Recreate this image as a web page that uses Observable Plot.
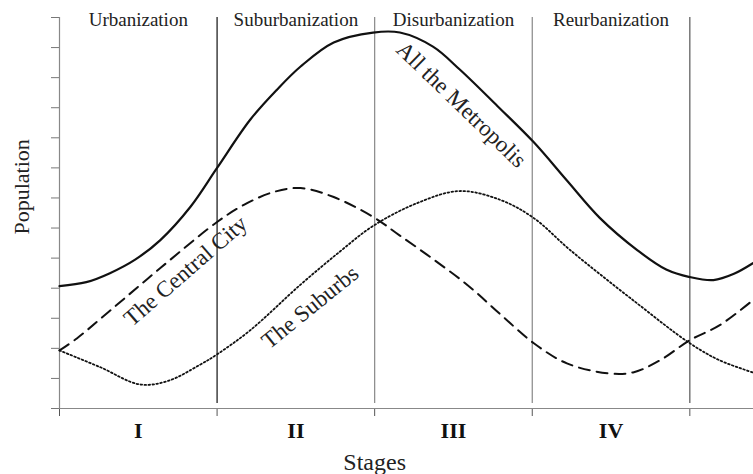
<!DOCTYPE html>
<html>
<head>
<meta charset="utf-8">
<script src="https://cdn.jsdelivr.net/npm/d3@7"></script>
<script src="https://cdn.jsdelivr.net/npm/@observablehq/plot@0.6"></script>
<style>
  html, body { margin: 0; padding: 0; background: #fff; }
  #chart svg { display: block; }
</style>
</head>
<body>
<div id="chart"></div>
<script>
// Stage boundaries and labels
const stageTicks = [0, 1, 2, 3, 4];
const stageDividers = [1, 2, 3, 4];
const stageCenters = [0.5, 1.5, 2.5, 3.5];
const stageNames = ["Urbanization", "Suburbanization", "Disurbanization", "Reurbanization"];
const stageNumerals = ["I", "II", "III", "IV"];
const populationTicks = [0, 1, 2, 3, 4, 5, 6, 7, 8, 9, 10, 11, 12, 13];

// All the Metropolis (solid)
const metroX = [0, 0.17, 0.32, 0.48, 0.64, 0.83, 1.0, 1.21, 1.38, 1.53, 1.74, 1.99, 2.16, 2.37, 2.54, 2.78, 3.01, 3.22, 3.43, 3.67, 3.85, 4.0, 4.15, 4.28, 4.4];
const metroY = [4.07, 4.2, 4.5, 4.95, 5.6, 6.7, 8.0, 9.6, 10.6, 11.37, 12.17, 12.5, 12.5, 12.03, 11.27, 10.05, 8.85, 7.58, 6.33, 5.25, 4.62, 4.37, 4.27, 4.48, 4.83];

// The Central City (dashed)
const cityX = [0, 0.11, 0.32, 0.64, 1.0, 1.17, 1.36, 1.53, 1.74, 1.99, 2.16, 2.37, 2.59, 2.8, 3.01, 3.22, 3.48, 3.64, 3.81, 4.0, 4.19, 4.4];
const cityY = [1.93, 2.33, 3.25, 4.67, 6.2, 6.77, 7.2, 7.33, 7.03, 6.37, 5.75, 4.97, 4.1, 3.12, 2.17, 1.5, 1.17, 1.2, 1.6, 2.27, 2.77, 3.6];

// The Suburbs (dotted)
const suburbX = [0, 0.26, 0.51, 0.69, 0.89, 1.0, 1.21, 1.53, 1.78, 1.99, 2.27, 2.54, 2.8, 3.01, 3.24, 3.64, 4.0, 4.19, 4.4];
const suburbY = [1.93, 1.37, 0.8, 0.92, 1.45, 1.8, 2.6, 4.12, 5.22, 6.07, 6.83, 7.23, 6.93, 6.33, 5.27, 3.6, 2.17, 1.6, 1.2];

// Curve labels
const curveLabels = ["The Central City", "The Suburbs", "All the Metropolis"];
const curveLabelX = [0.8, 1.59, 2.55];
const curveLabelY = [4.57, 3.37, 10.1];
const curveLabelAngle = [-41, -39, 44];

const toRows = (xs, ys) => xs.map((x, i) => ({x, y: ys[i]}));
const metro = toRows(metroX, metroY);
const city = toRows(cityX, cityY);
const suburbs = toRows(suburbX, suburbY);
const labels = curveLabels.map((t, i) => ({t, x: curveLabelX[i], y: curveLabelY[i], a: curveLabelAngle[i]}));
const stages = stageNames.map((name, i) => ({name, num: stageNumerals[i], x: stageCenters[i]}));
const dividers = stageDividers.map((x, i) => ({x, c: ["#111", "#888", "#888", "#555"][i]}));

const font = "Liberation Serif, Times New Roman, serif";

const chart = Plot.plot({
  width: 753,
  height: 474,
  marginLeft: 59,
  marginRight: 0,
  marginTop: 17,
  marginBottom: 66,
  style: {fontFamily: font, background: "#fff", color: "#111"},
  x: {domain: [0, 4.404], axis: null},
  y: {domain: [0, 13], axis: null},
  marks: [
    // bottom axis ticks
    Plot.axisX({ticks: stageTicks, tickSize: 8, tickFormat: () => "", label: null, stroke: "#555"}),
    // left axis ticks
    Plot.axisY({ticks: populationTicks, tickSize: 8, tickFormat: () => "", label: null, stroke: "#777"}),
    // axis lines
    Plot.ruleX([0], {y1: 0, y2: 13, stroke: "#888", strokeWidth: 1.2}),
    Plot.ruleY([0], {stroke: "#888", strokeWidth: 1.2}),
    // stage dividers
    Plot.ruleX(dividers, {x: "x", y1: 0, y2: 13, insetTop: -5, stroke: "c", strokeWidth: 1.2}),
    // curves
    Plot.line(metro, {x: "x", y: "y", curve: "catmull-rom", stroke: "#111", strokeWidth: 2.2}),
    Plot.line(city, {x: "x", y: "y", curve: "catmull-rom", stroke: "#111", strokeWidth: 2, strokeDasharray: "11,7"}),
    Plot.line(suburbs, {x: "x", y: "y", curve: "catmull-rom", stroke: "#111", strokeWidth: 1.8, strokeDasharray: "1.6,2.4"}),
    // curve labels
    Plot.text(labels, {x: "x", y: "y", text: "t", rotate: "a", fontSize: 23, fill: "#222", textAnchor: "middle", lineAnchor: "middle"}),
    // stage names (top)
    Plot.text(stages, {x: "x", text: "name", frameAnchor: "top", lineAnchor: "bottom", dy: 8, fontSize: 19, fill: "#222"}),
    // stage numerals (bottom)
    Plot.text(stages, {x: "x", text: "num", frameAnchor: "bottom", lineAnchor: "bottom", dy: 29, fontSize: 22, fontWeight: "bold", fill: "#111"}),
    // axis titles
    Plot.text(["Stages"], {x: [2.0], frameAnchor: "bottom", lineAnchor: "bottom", dy: 61, fontSize: 24, fill: "#222"}),
    Plot.text(["Population"], {y: [7.37], frameAnchor: "left", lineAnchor: "bottom", rotate: -90, dx: -31, fontSize: 22, fill: "#222", textAnchor: "middle"})
  ]
});

document.getElementById("chart").appendChild(chart);
</script>
</body>
</html>
